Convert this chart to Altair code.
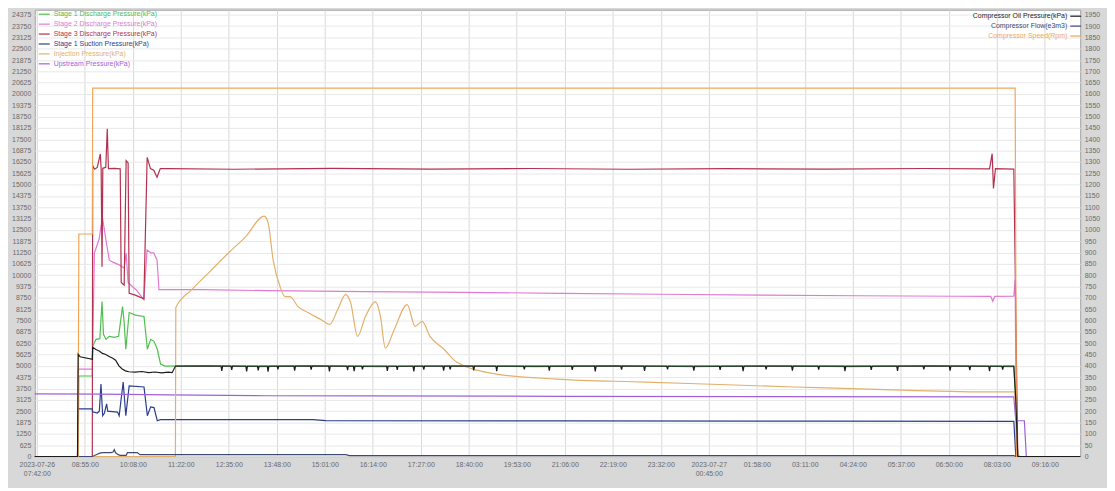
import altair as alt
import pandas as pd

# ---------------- axis text ----------------
X_LABELS = ["2023-07-26 07:42:00", "08:55:00", "10:08:00", "11:22:00", "12:35:00", "13:48:00",
            "15:01:00", "16:14:00", "17:27:00", "18:40:00", "19:53:00", "21:06:00", "22:19:00",
            "23:32:00", "2023-07-27 00:45:00", "01:58:00", "03:11:00", "04:24:00", "05:37:00",
            "06:50:00", "08:03:00", "09:16:00"]
TICK_STEP = 73.05          # minutes between time labels
X_DOMAIN = [-3, 1588]      # minutes after 07:42
LEFT_TICKS = list(range(0, 24376, 625))
RIGHT_TICKS = list(range(0, 1951, 50))
LEFT_DOMAIN = [0, 24650]
RIGHT_DOMAIN = [0, 1972]

LEFT_NAMES = ["Stage 1 Discharge Pressure(kPa)", "Stage 2 Discharge Pressure(kPa)",
              "Stage 3 Discharge Pressure(kPa)", "Stage 1 Suction Pressure(kPa)",
              "Injection Pressure(kPa)", "Upstream Pressure(kPa)"]
LEFT_COLORS = ["#4fbf4f", "#e07ad4", "#b3304e", "#2b3d8e", "#e2b06c", "#a060d8"]
RIGHT_NAMES = ["Compressor Oil Pressure(kPa)", "Compressor Flow(e3m3)", "Compressor Speed(Rpm)"]
RIGHT_COLORS = ["#1c1c1c", "#3d4a72", "#f0a658"]

# ---------------- series (minutes, value) ----------------
STAGE1 = [(-3, 0), (63, 0), (64, 4440), (84.5, 4440), (85.1, 6080), (90.2, 6464), (96, 6500),
          (99.3, 8546), (101.5, 6738), (105.3, 6464), (110.3, 6628), (118, 6574), (124.5, 6628),
          (130.5, 8272), (133, 7400), (135.5, 5916), (140.6, 7943), (150, 7800), (163.2, 7724),
          (168.3, 5916), (173.3, 6464), (178.4, 6354), (183.4, 5916), (188.4, 5095), (195, 4985),
          (260, 5010), (340, 4960), (420, 5015), (520, 4950), (640, 5005), (760, 4960), (880, 5010),
          (1000, 4950), (1120, 5000), (1240, 4960), (1360, 5010), (1487, 4950), (1490, 3000),
          (1493, 0), (1588, 0)]
STAGE2 = [(-3, 0), (62, 0), (63, 4820), (84.5, 4820), (87.7, 11230), (95, 12000), (99.8, 13219),
          (105.3, 11942), (110.3, 10846), (115, 10737), (125.4, 10573), (130, 10463), (133, 10400),
          (136, 11230), (139, 9587), (151, 9203), (163, 8655), (167.8, 11394), (173.8, 11230),
          (178, 11230), (183, 10846), (186, 9203), (250, 9210), (350, 9150), (500, 9100),
          (650, 9060), (800, 9000), (950, 8950), (1100, 8900), (1250, 8870), (1400, 8840),
          (1452, 8830), (1455, 8560), (1458, 8830), (1487, 8840), (1489, 9750), (1491, 0), (1588, 0)]
STAGE3 = [(-3, 0), (84.5, 0), (85.1, 16050), (88, 15850), (92, 15950), (96.7, 16690), (98, 15850),
          (99.3, 10463), (100.5, 15900), (105, 15950), (107.3, 18078), (109, 15880), (118, 15900),
          (127, 15870), (128.5, 9600), (133, 9450), (136, 16324), (139, 16200), (140.6, 9000),
          (150, 8900), (163, 8700), (168, 16508), (173, 15886), (178, 15800), (183, 15410),
          (188, 15886), (200, 15880), (300, 15850), (450, 15900), (600, 15860), (750, 15890),
          (900, 15850), (1050, 15880), (1200, 15860), (1350, 15890), (1450, 15870), (1454, 16708),
          (1456, 14790), (1459, 15880), (1487, 15860), (1490, 8000), (1493, 0), (1588, 0)]
SUCTION = [(-3, 0), (62, 0), (63, 2630), (84.5, 2630), (85.1, 2465), (92, 2400), (95.2, 2500),
           (97.7, 3999), (100.3, 2250), (103, 2400), (106.3, 2903), (108, 2500), (115, 2480),
           (122.9, 2450), (125.4, 2246), (131.5, 4108), (135.5, 2246), (140.6, 3889), (163.2, 3834),
           (168.3, 2246), (173.3, 2739), (178.4, 2700), (183.4, 1972), (188, 2030), (420, 2030),
           (440, 1980), (800, 1965), (1200, 1950), (1487, 1940), (1490, 0), (1588, 0)]
INJECTION = [(-3, 0), (211, 0), (211.6, 8217), (235.8, 9203), (261.5, 10134), (291.7, 11230),
             (317.4, 12106), (346.1, 13257), (352.2, 12873), (359.7, 10846), (370.3, 9367),
             (377.9, 8820), (385.4, 8820), (397.5, 8272), (412.6, 7943), (432.3, 7560),
             (445.9, 7286), (458, 8107), (470, 8929), (477.6, 8491), (488.2, 6628), (500.3, 7724),
             (515.4, 8546), (523, 7724), (530.5, 5971), (544.1, 7012), (563.8, 8381), (575.8, 7176),
             (586.4, 7450), (598.5, 6628), (619.7, 5916), (639.3, 5204), (699.8, 4547),
             (790.5, 4273), (926.5, 4108), (1153, 3835), (1304, 3670), (1455, 3561), (1488, 3561),
             (1493, 164), (1497, 0), (1588, 0)]
UPSTREAM = [(-3, 3450), (100, 3440), (200, 3400), (350, 3350), (500, 3340), (800, 3320),
            (1100, 3305), (1487, 3290), (1490, 1970), (1503, 1970), (1506, 0), (1588, 0)]

OIL_EARLY = [(-3, 0), (62, 0), (63, 451), (66, 440), (84.5, 429), (85.1, 482), (90, 472), (95, 466),
             (100, 455), (105, 450), (110, 441), (115, 435), (120, 425), (125, 400), (130, 386),
             (135, 378), (140, 374), (150, 372), (160, 375), (170, 370), (180, 373), (190, 369),
             (200, 372), (206, 370), (211.1, 399)]
OIL_BASE = 399
OIL_DIPS = [(281.6, 378), (296.7, 382), (319.4, 376), (337, 380), (352, 374), (367, 385),
            (392.5, 379), (417.6, 383), (445.4, 376), (473, 381), (483, 377), (495.7, 384),
            (533.5, 378), (548.6, 382), (573.8, 376), (589, 383), (619.2, 379), (629.2, 385),
            (665, 380), (700, 377), (742, 384), (780, 379), (815, 382), (850, 376), (890, 383),
            (925, 378), (960, 385), (1000, 379), (1040, 382), (1075, 377), (1110, 384), (1150, 379),
            (1190, 383), (1230, 377), (1270, 382), (1310, 378), (1350, 384), (1390, 379),
            (1420, 381), (1450, 377), (1470, 383)]
OIL_END = [(1487, 399), (1490, 250), (1493, 0), (1588, 0)]
FLOW = [(-3, 0), (84, 0), (88, 4), (92, 10), (96, 15), (100, 17), (113, 17), (116, 20), (118, 30),
        (120, 16), (124, 8), (127, 5), (136, 5), (138, 17), (153, 17), (157, 8), (470, 8), (476, 4),
        (1487, 4), (1490, 0), (1588, 0)]
SPEED = [(-3, 0), (63, 0), (64, 982), (84.5, 982), (85.1, 1626), (1489, 1626), (1491, 0), (1588, 0)]


def frame(pairs, name):
    return pd.DataFrame({"t": [p[0] for p in pairs], "value": [p[1] for p in pairs],
                         "series": name, "k": list(range(len(pairs)))})


oil_pairs = list(OIL_EARLY)
for t, d in OIL_DIPS:
    oil_pairs += [(t - 1.2, OIL_BASE), (t, d), (t + 1.2, OIL_BASE)]
oil_pairs += OIL_END

left_lin = pd.concat([frame(STAGE1, LEFT_NAMES[0]), frame(STAGE2, LEFT_NAMES[1]),
                      frame(STAGE3, LEFT_NAMES[2]), frame(SUCTION, LEFT_NAMES[3]),
                      frame(UPSTREAM, LEFT_NAMES[5])])
left_inj = frame(INJECTION, LEFT_NAMES[4])
right_df = pd.concat([frame(FLOW, RIGHT_NAMES[1]), frame(SPEED, RIGHT_NAMES[2]),
                      frame(oil_pairs, RIGHT_NAMES[0])])

FONT = "Liberation Sans"
GREY_TXT = "#6a6a6a"


def js_list(items):
    return "[" + ",".join("'" + s + "'" for s in items) + "]"


label_expr = "split(" + js_list(X_LABELS) + "[round(datum.value / %s)], ' ')" % TICK_STEP

x_enc = alt.X("t:Q", scale=alt.Scale(domain=X_DOMAIN, nice=False, zero=False),
              axis=alt.Axis(values=[k * TICK_STEP for k in range(len(X_LABELS))],
                            labelExpr=label_expr, title=None, grid=True, gridColor="#d9d9d9",
                            ticks=False, domain=False, labelFontSize=7, labelColor=GREY_TXT,
                            labelPadding=4, labelLineHeight=9, labelOverlap=False,
                            labelFlush=False, labelBound=False, labelFont=FONT))

y_left = alt.Y("value:Q", scale=alt.Scale(domain=LEFT_DOMAIN, nice=False),
               axis=alt.Axis(values=LEFT_TICKS, format="d", title=None, grid=True,
                             gridColor="#e8e8e8", ticks=False, domain=False, labelFontSize=7,
                             labelColor=GREY_TXT, labelPadding=4, labelOverlap=False,
                             labelFont=FONT))
y_right = alt.Y("value:Q", scale=alt.Scale(domain=RIGHT_DOMAIN, nice=False),
                axis=alt.Axis(values=RIGHT_TICKS, format="d", orient="right", title=None,
                              grid=False, ticks=False, domain=False, labelFontSize=7,
                              labelColor=GREY_TXT, labelPadding=4, labelOverlap=False,
                              labelFont=FONT))

left_color_expr = js_list(LEFT_COLORS) + "[indexof(" + js_list(LEFT_NAMES) + ", datum.label)]"
right_color_expr = js_list(RIGHT_COLORS) + "[indexof(" + js_list(RIGHT_NAMES) + ", datum.label)]"

c_left = alt.Color("series:N", scale=alt.Scale(domain=LEFT_NAMES, range=LEFT_COLORS),
                   legend=alt.Legend(orient="none", legendX=3, legendY=-2, title=None,
                                     symbolType="stroke", symbolSize=121, symbolStrokeWidth=1.2,
                                     labelFontSize=7, labelFont=FONT,
                                     labelColor={"expr": left_color_expr},
                                     padding=0, rowPadding=0, labelOffset=3, labelLimit=300))
c_right = alt.Color("series:N", scale=alt.Scale(domain=RIGHT_NAMES, range=RIGHT_COLORS),
                    legend=alt.Legend(orient="none", legendX=1042, legendY=0, title=None,
                                      symbolType="stroke", symbolSize=121, symbolStrokeWidth=1.2,
                                      labelFontSize=7, labelFont=FONT,
                                      labelColor={"expr": right_color_expr},
                                      labelAlign="right", labelOffset={"expr": "-15"},
                                      padding=0, rowPadding=0, labelLimit=300))

stages = alt.Chart(left_lin).mark_line(strokeWidth=1.2).encode(
    x=x_enc, y=y_left, color=c_left, detail="series:N", order="k:Q")
inj = alt.Chart(left_inj).mark_line(strokeWidth=1.2, interpolate="monotone").encode(
    x=x_enc, y=y_left, color=c_left, order="k:Q")
left = alt.layer(stages, inj)

right = alt.Chart(right_df).mark_line(strokeWidth=1.2).encode(
    x=x_enc, y=y_right, color=c_right, detail="series:N", order="k:Q")

chart = alt.layer(left, right).resolve_scale(y="independent", color="independent").properties(
    width=1053, height=450,
    autosize=alt.AutoSizeParams(type="none"),
    padding={"left": 27, "top": 0, "right": 27, "bottom": 30},
    background="#d8d8d8",
    view=alt.ViewBackground(fill="white", stroke="#a0a0a0"),
).configure_view(fill="white", stroke="#a0a0a0").configure(font=FONT)

chart.save("out.html", embed_options={"renderer": "svg", "actions": False})
